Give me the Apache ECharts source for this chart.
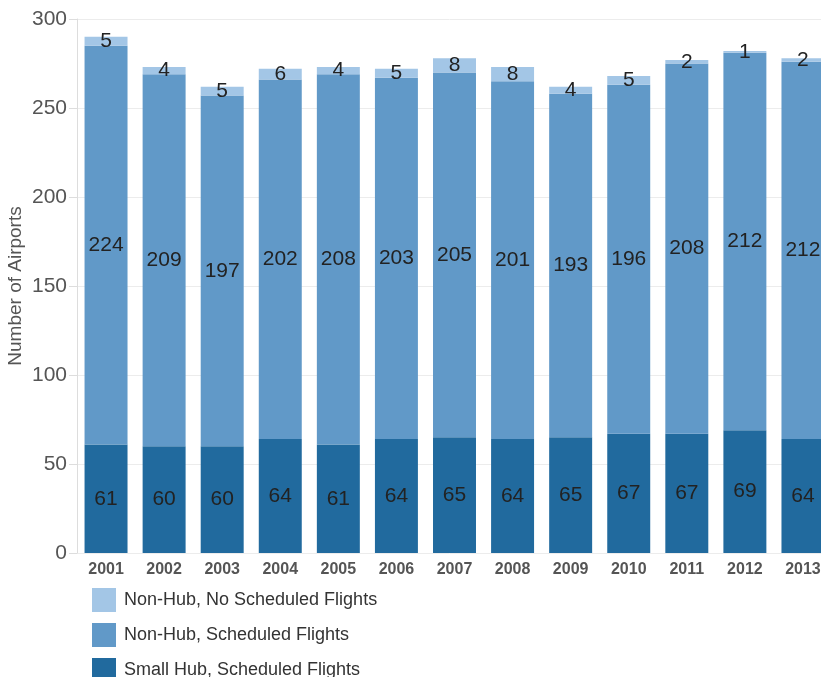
<!DOCTYPE html>
<html>
<head>
<meta charset="utf-8">
<script src="https://cdn.jsdelivr.net/npm/echarts@6/dist/echarts.min.js"></script>
<style>
  html, body { margin: 0; padding: 0; background: #fff; }
  #main { width: 821px; height: 677px; }
</style>
</head>
<body>
<div id="main"></div>
<script>
  // years on the x axis
  var years = ['2001','2002','2003','2004','2005','2006','2007','2008','2009','2010','2011','2012','2013'];
  // stacked segments, bottom to top
  var smallHub = [61, 60, 60, 64, 61, 64, 65, 64, 65, 67, 67, 69, 64];
  var nonHubScheduled = [224, 209, 197, 202, 208, 203, 205, 201, 193, 196, 208, 212, 212];
  var nonHubNoScheduled = [5, 4, 5, 6, 4, 5, 8, 8, 4, 5, 2, 1, 2];

  var chart = echarts.init(document.getElementById('main'));

  var font = 'Liberation Sans, Arial, sans-serif';
  var segLabel = {
    show: true,
    position: 'inside',
    color: '#222',
    fontSize: 21,
    fontFamily: font
  };

  chart.setOption({
    animation: false,
    color: ['#216a9e', '#6199c8', '#a3c6e6'],
    grid: {
      left: 77,
      top: 19,
      width: 755,
      height: 534,
      outerBoundsMode: 'none'
    },
    legend: {
      orient: 'vertical',
      left: 92,
      top: 588,
      height: 120,
      padding: 0,
      itemWidth: 24,
      itemHeight: 24,
      itemGap: 11,
      icon: 'rect',
      textStyle: { color: '#333', fontSize: 18, fontFamily: font, padding: [0, 0, 0, 3] },
      data: ['Non-Hub, No Scheduled Flights', 'Non-Hub, Scheduled Flights', 'Small Hub, Scheduled Flights']
    },
    xAxis: {
      type: 'category',
      data: years,
      axisLine: { show: false },
      axisTick: { show: false },
      axisLabel: {
        color: '#555',
        fontSize: 16,
        fontWeight: 'bold',
        margin: 9,
        fontFamily: font
      }
    },
    yAxis: {
      type: 'value',
      min: 0,
      max: 300,
      interval: 50,
      name: 'Number of Airports',
      nameLocation: 'middle',
      nameGap: 52,
      nameMoveOverlap: false,
      nameTextStyle: { color: '#555', fontSize: 19, fontFamily: font },
      axisLine: { show: true, lineStyle: { color: '#ddd' } },
      axisTick: { show: true, length: 8, lineStyle: { color: '#ddd' } },
      axisLabel: {
        color: '#555',
        fontSize: 21,
        margin: 10,
        fontFamily: font
      },
      splitLine: { lineStyle: { color: '#ececec' } }
    },
    series: [
      {
        name: 'Small Hub, Scheduled Flights',
        type: 'bar',
        stack: 'total',
        barCategoryGap: '26%',
        data: smallHub,
        label: segLabel
      },
      {
        name: 'Non-Hub, Scheduled Flights',
        type: 'bar',
        stack: 'total',
        data: nonHubScheduled,
        label: segLabel
      },
      {
        name: 'Non-Hub, No Scheduled Flights',
        type: 'bar',
        stack: 'total',
        data: nonHubNoScheduled,
        label: segLabel
      }
    ]
  });
</script>
</body>
</html>
